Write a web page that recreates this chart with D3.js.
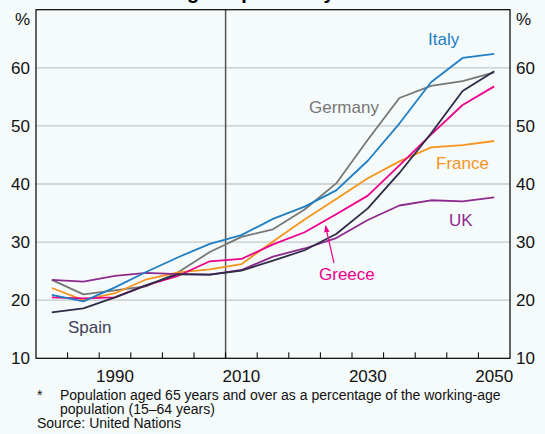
<!DOCTYPE html>
<html>
<head>
<meta charset="utf-8">
<script src="https://cdn.jsdelivr.net/npm/d3@7/dist/d3.min.js"></script>
<style>
  html, body { margin: 0; padding: 0; background: #f5fafa; }
  svg { display: block; }
  text { font-family: "Liberation Sans", Arial, Helvetica, sans-serif; }
</style>
</head>
<body>
<script>
// ---- data ----
const years = [1980, 1985, 1990, 1995, 2000, 2005, 2010, 2015, 2020, 2025, 2030, 2035, 2040, 2045, 2050];
const italy   = [20.9, 19.8, 22.2, 24.9, 27.4, 29.7, 31.2, 34.0, 36.1, 38.9, 44.0, 50.4, 57.5, 61.7, 62.4];
const germany = [23.5, 21.0, 21.7, 22.4, 24.8, 28.3, 30.9, 32.2, 35.6, 40.1, 47.6, 54.8, 56.9, 57.7, 59.2];
const france  = [22.1, 20.0, 21.2, 23.6, 24.8, 25.3, 26.2, 30.1, 33.9, 37.4, 41.0, 43.9, 46.3, 46.7, 47.4];
const greece  = [20.5, 20.3, 20.5, 22.6, 24.2, 26.7, 27.1, 29.6, 31.7, 34.8, 38.0, 43.2, 48.5, 53.6, 56.8];
const uk      = [23.5, 23.2, 24.2, 24.7, 24.5, 24.4, 25.2, 27.5, 28.9, 30.7, 33.8, 36.3, 37.2, 37.0, 37.7];
const spain   = [17.9, 18.6, 20.5, 22.6, 24.5, 24.4, 25.1, 26.8, 28.6, 31.4, 35.8, 41.9, 48.7, 56.0, 59.4];
const yTicks = [10, 20, 30, 40, 50, 60];
const xLabels = [1990, 2010, 2030, 2050];
const xTickBounds = [1982.5, 1987.5, 1992.5, 1997.5, 2002.5, 2007.5, 2012.5, 2017.5, 2022.5, 2027.5, 2032.5, 2037.5, 2042.5, 2047.5];
const dividerYear = 2007.5;
const title = "Old-age Dependency Ratios*";
const footnote1 = "Population aged 65 years and over as a percentage of the working-age";
const footnote2 = "population (15\u201364 years)";
const source = "Source: United Nations";

const series = [
  { name: "Germany", values: germany, color: "#777777", lx: 309, ly: 113 },
  { name: "France",  values: france,  color: "#f7941d", lx: 436, ly: 168.5 },
  { name: "UK",      values: uk,      color: "#8e2a8e", lx: 449, ly: 225.5 },
  { name: "Greece",  values: greece,  color: "#ec008c", lx: 319, ly: 279.5 },
  { name: "Spain",   values: spain,   color: "#2c2c46", lx: 68,  ly: 333, labelColor: "#40405c" },
  { name: "Italy",   values: italy,   color: "#1f7fc5", lx: 428, ly: 44.5 }
];

// ---- layout ----
const W = 545, H = 434;
const L = 36, R = 510, T = 9.7, B = 358.3;

const svg = d3.select("body").append("svg").attr("width", W).attr("height", H);
svg.append("rect").attr("width", W).attr("height", H).attr("fill", "#f5fafa");

const x = d3.scaleLinear().domain([1977.5, 2052.5]).range([L, R]);
const y = d3.scaleLinear().domain([10, 70]).range([B, T]);

// title (cut off at top as in reference)
svg.append("text").attr("x", W / 2).attr("y", -1.5).attr("text-anchor", "middle")
  .attr("font-size", 20).attr("font-weight", "bold").attr("fill", "#000").text(title);

// gridlines
svg.append("g").selectAll("line").data(yTicks.filter(d => d > 10)).join("line")
  .attr("x1", L).attr("x2", R).attr("y1", d => y(d)).attr("y2", d => y(d))
  .attr("stroke", "#c4c8c9").attr("stroke-width", 1.3);

// divider line
svg.append("line").attr("x1", x(dividerYear)).attr("x2", x(dividerYear))
  .attr("y1", T).attr("y2", B).attr("stroke", "#555").attr("stroke-width", 1.5);

// x ticks (inside)
svg.append("g").selectAll("line").data(xTickBounds).join("line")
  .attr("x1", d => x(d)).attr("x2", d => x(d)).attr("y1", B).attr("y2", B - 6)
  .attr("stroke", "#000").attr("stroke-width", 1);

// frame
svg.append("rect").attr("x", L).attr("y", T).attr("width", R - L).attr("height", B - T)
  .attr("fill", "none").attr("stroke", "#000").attr("stroke-width", 1.2);

// y labels
const yl = svg.append("g").attr("font-size", 17).attr("fill", "#111");
yl.selectAll("text.l").data(yTicks).join("text").attr("class", "l")
  .attr("x", L - 6).attr("y", d => y(d)).attr("dy", "0.36em").attr("text-anchor", "end").text(d => d);
yl.selectAll("text.r").data(yTicks).join("text").attr("class", "r")
  .attr("x", R + 6).attr("y", d => y(d)).attr("dy", "0.36em").attr("text-anchor", "start").text(d => d);
yl.append("text").attr("x", L - 6).attr("y", 25).attr("text-anchor", "end").text("%");
yl.append("text").attr("x", R + 6).attr("y", 25).attr("text-anchor", "start").text("%");

// x labels
svg.append("g").attr("font-size", 17).attr("fill", "#111")
  .selectAll("text").data(xLabels).join("text")
  .attr("x", d => x(d)).attr("y", 381.7).attr("text-anchor", "middle").text(d => d);

// lines
const line = d3.line().x((d, i) => x(years[i])).y(d => y(d));
svg.append("g").selectAll("path").data(series).join("path")
  .attr("d", d => line(d.values)).attr("fill", "none")
  .attr("stroke", d => d.color).attr("stroke-width", 1.8).attr("stroke-linejoin", "round");

// labels
svg.append("g").attr("font-size", 17).selectAll("text").data(series).join("text")
  .attr("x", d => d.lx).attr("y", d => d.ly).attr("fill", d => d.labelColor || d.color).text(d => d.name);

// Greece arrow
const defs = svg.append("defs");
defs.append("marker").attr("id", "arr").attr("viewBox", "0 0 10 10").attr("refX", 9).attr("refY", 5)
  .attr("markerWidth", 7).attr("markerHeight", 7).attr("orient", "auto-start-reverse")
  .attr("markerUnits", "userSpaceOnUse")
  .append("path").attr("d", "M0,1 L10,5 L0,9 Z").attr("fill", "#ec008c");
svg.append("line").attr("x1", 334).attr("y1", 263).attr("x2", 325.5).attr("y2", 226)
  .attr("stroke", "#ec008c").attr("stroke-width", 1.2).attr("marker-end", "url(#arr)");

// footnotes
const fn = svg.append("g").attr("font-size", 14).attr("fill", "#111");
fn.append("text").attr("x", 37).attr("y", 400).text("*");
fn.append("text").attr("x", 60).attr("y", 400).text(footnote1);
fn.append("text").attr("x", 60).attr("y", 414.3).text(footnote2);
fn.append("text").attr("x", 37).attr("y", 428.3).text(source);
</script>
</body>
</html>
